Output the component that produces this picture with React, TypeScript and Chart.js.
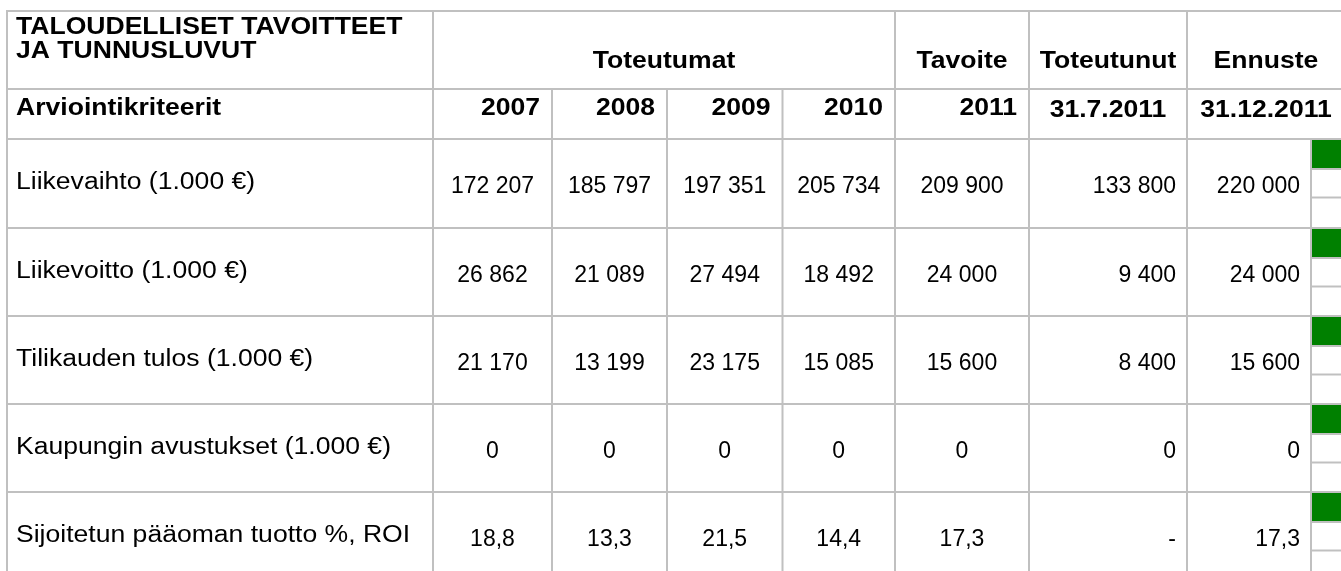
import React, { useEffect, useRef } from "react";
import { Chart, registerables } from "chart.js";

Chart.register(...registerables);

// ---- data ----
const titleLines = ["TALOUDELLISET TAVOITTEET", "JA TUNNUSLUVUT"];
const criteriaHeader = "Arviointikriteerit";
const groupHeaders = ["Toteutumat", "Tavoite", "Toteutunut", "Ennuste"];
const periods = ["2007", "2008", "2009", "2010", "2011", "31.7.2011", "31.12.2011"];
const rowLabels = [
  "Liikevaihto (1.000 €)",
  "Liikevoitto (1.000 €)",
  "Tilikauden tulos (1.000 €)",
  "Kaupungin avustukset (1.000 €)",
  "Sijoitetun pääoman tuotto %, ROI",
];
const v2007 = [172207, 26862, 21170, 0, 18.8];
const v2008 = [185797, 21089, 13199, 0, 13.3];
const v2009 = [197351, 27494, 23175, 0, 21.5];
const v2010 = [205734, 18492, 15085, 0, 14.4];
const target2011 = [209900, 24000, 15600, 0, 17.3];
const actual31Jul2011 = [133800, 9400, 8400, 0, null];
const forecast31Dec2011 = [220000, 24000, 15600, 0, 17.3];
const statusColors = ["#008000", "#008000", "#008000", "#008000", "#008000"];

const valueColumns = [v2007, v2008, v2009, v2010, target2011, actual31Jul2011, forecast31Dec2011];

// ---- layout (table geometry in page pixels) ----
const W = 1341;
const H = 571;
const colEdges = [7, 433, 552, 667, 782.5, 895, 1029, 1187, 1311, 1341];
const headTop = 11;
const headMid = 89;
const rowTops = [139, 228, 316, 404, 492];
const gridColor = "#c0c0c0";
const FONT = '"Liberation Sans", Arial, Helvetica, sans-serif';

function fmt(v: number | null): string {
  if (v === null || v === undefined) return "-";
  if (Number.isInteger(v)) {
    return String(v).replace(/\B(?=(\d{3})+(?!\d))/g, " ");
  }
  return v.toFixed(1).replace(".", ",");
}

const tablePlugin = {
  id: "tablePlugin",
  afterDraw(chart: any) {
    const { ctx } = chart;
    const xs = chart.scales.x;
    const ys = chart.scales.y;
    const X = (v: number) => xs.getPixelForValue(v);
    const Y = (v: number) => ys.getPixelForValue(v);
    ctx.save();

    // status squares
    rowTops.forEach((t, i) => {
      ctx.fillStyle = statusColors[i];
      ctx.fillRect(X(colEdges[8] + 1), Y(t + 1), X(W) - X(colEdges[8] + 1), Y(t + 29) - Y(t + 1));
    });

    ctx.strokeStyle = gridColor;
    ctx.lineWidth = 2;
    const hline = (x0: number, x1: number, yv: number) => {
      ctx.beginPath();
      ctx.moveTo(X(x0), Y(yv));
      ctx.lineTo(X(x1), Y(yv));
      ctx.stroke();
    };
    const vline = (xv: number, y0: number, y1: number) => {
      ctx.beginPath();
      ctx.moveTo(X(xv), Y(y0));
      ctx.lineTo(X(xv), Y(y1));
      ctx.stroke();
    };
    const right = colEdges[colEdges.length - 1];
    hline(colEdges[0] - 1, right, headTop);
    hline(colEdges[0] - 1, right, headMid);
    rowTops.forEach((t) => hline(colEdges[0] - 1, right, t));
    rowTops.forEach((t) => {
      hline(colEdges[8], right, t + 30);
      hline(colEdges[8], right, t + 58.5);
    });
    [0, 1, 5, 6, 7].forEach((c) => vline(colEdges[c], headTop - 1, H));
    [2, 3, 4].forEach((c) => vline(colEdges[c], headMid, H));
    vline(colEdges[8], rowTops[0], H);

    ctx.fillStyle = "#000";
    ctx.textBaseline = "alphabetic";
    const txt = (s: string, xv: number, yv: number, align: CanvasTextAlign, font: string, sx: number) => {
      ctx.save();
      ctx.font = font;
      ctx.textAlign = align;
      ctx.translate(X(xv), Y(yv));
      ctx.scale(sx, 1);
      ctx.fillText(s, 0, 0);
      ctx.restore();
    };
    const bold = `bold 23.5px ${FONT}`;
    const boldSx = 1.13;
    const label = `23.5px ${FONT}`;
    const labelSx = 1.13;
    const num = `23px ${FONT}`;
    const numSx = 1.0;
    const pad = 11;
    const mergedRight = 1345;

    // header row 1
    txt(titleLines[0], 16, 34, "left", bold, boldSx);
    txt(titleLines[1], 16, 58, "left", bold, boldSx);
    txt(groupHeaders[0], (colEdges[1] + colEdges[5]) / 2, 67.5, "center", bold, boldSx);
    txt(groupHeaders[1], (colEdges[5] + colEdges[6]) / 2, 67.5, "center", bold, boldSx);
    txt(groupHeaders[2], (colEdges[6] + colEdges[7]) / 2, 67.5, "center", bold, boldSx);
    txt(groupHeaders[3], (colEdges[7] + mergedRight) / 2, 67.5, "center", bold, boldSx);

    // header row 2
    txt(criteriaHeader, 16, 115, "left", bold, boldSx);
    for (let c = 0; c < 5; c++) txt(periods[c], colEdges[c + 2] - pad - 1, 115, "right", bold, boldSx);
    txt(periods[5], (colEdges[6] + colEdges[7]) / 2, 117, "center", bold, boldSx);
    txt(periods[6], (colEdges[7] + mergedRight) / 2, 117, "center", bold, boldSx);

    // data rows
    rowTops.forEach((t, r) => {
      txt(rowLabels[r], 16, t + 50, "left", label, labelSx);
      valueColumns.forEach((col, c) => {
        const s = fmt(col[r]);
        if (c < 5) {
          txt(s, (colEdges[c + 1] + colEdges[c + 2]) / 2, t + 54, "center", num, numSx);
        } else {
          txt(s, colEdges[c + 2] - pad, t + 54, "right", num, numSx);
        }
      });
    });

    ctx.restore();
  },
};

export default function App() {
  const ref = useRef<HTMLCanvasElement | null>(null);
  useEffect(() => {
    if (!ref.current) return;
    const chart = new Chart(ref.current, {
      type: "scatter",
      data: { datasets: [{ data: [] }] },
      options: {
        animation: false,
        responsive: false,
        devicePixelRatio: 1,
        events: [],
        layout: { padding: 0 },
        plugins: { legend: { display: false }, tooltip: { enabled: false } },
        scales: {
          x: { type: "linear", min: 0, max: W, display: false },
          y: { type: "linear", min: 0, max: H, reverse: true, display: false },
        },
      },
      plugins: [tablePlugin],
    });
    return () => chart.destroy();
  }, []);
  return (
    <div style={{ position: "absolute", left: 0, top: 0, width: W, height: H, background: "#fff" }}>
      <canvas ref={ref} width={W} height={H} style={{ display: "block" }} />
    </div>
  );
}
